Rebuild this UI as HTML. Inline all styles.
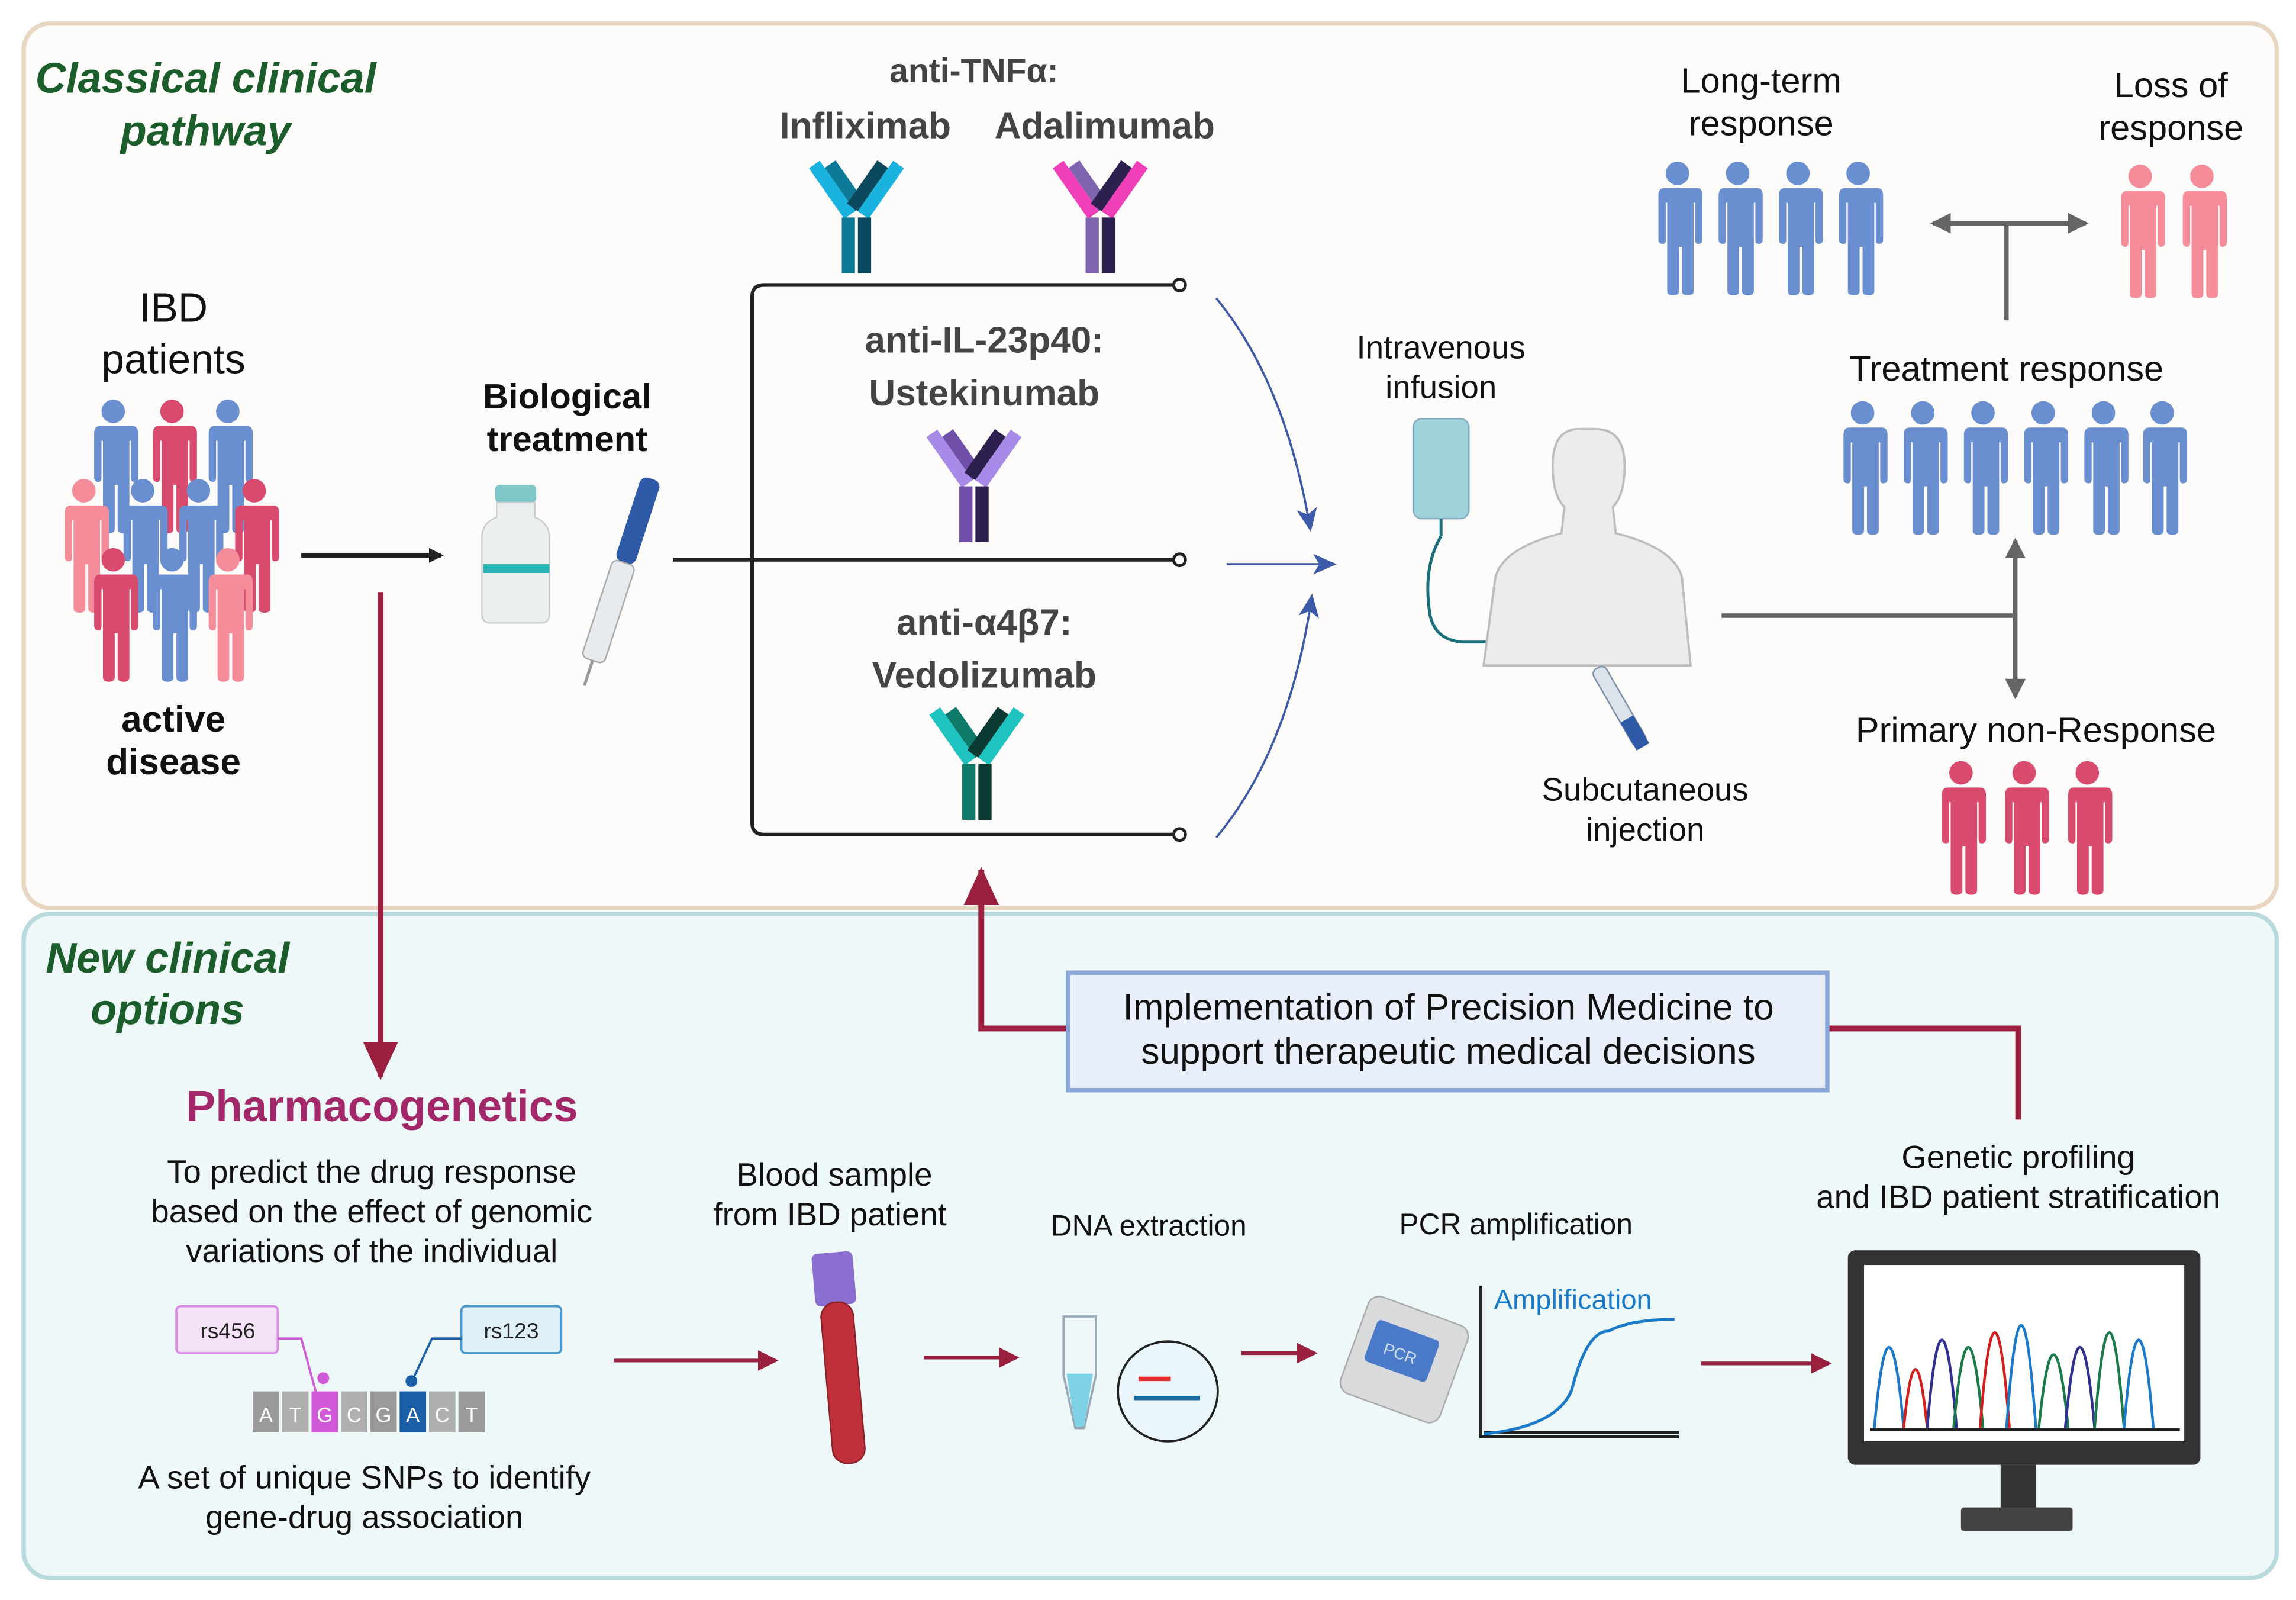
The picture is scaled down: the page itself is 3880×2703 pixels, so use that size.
<!DOCTYPE html>
<html><head><meta charset="utf-8"><style>
html,body{margin:0;padding:0;background:#fff}
svg{display:block}
text{font-family:"Liberation Sans",sans-serif}
</style></head><body>
<svg width="3880" height="2703" viewBox="0 0 1563 1089" xmlns="http://www.w3.org/2000/svg">
<defs>
<symbol id="p" viewBox="0 0 34 90" overflow="visible">
<circle cx="17" cy="8" r="8"/>
<path d="M4 18 h26 q4 0 4 5 v30 q0 3 -3 3 q-2 0 -2-3 v-25 h-1 v60 q0 3 -4 3 q-4 0 -4 -3 v-30 h-2 v30 q0 3 -4 3 q-4 0 -4 -3 v-60 h-1 v25 q0 3 -2 3 q-3 0 -3 -3 v-30 q0 -5 4 -5z"/>
</symbol>
<marker id="ak" markerWidth="10" markerHeight="10" refX="8" refY="5" orient="auto" markerUnits="userSpaceOnUse"><path d="M0 0 L10 5 L0 10z" fill="#222"/></marker>
<marker id="ab" markerWidth="16" markerHeight="14" refX="14" refY="7" orient="auto" markerUnits="userSpaceOnUse"><path d="M0 0 L16 7 L0 14 L4 7z" fill="#3d5aa8"/></marker>
<marker id="ag" markerWidth="14" markerHeight="14" refX="12" refY="7" orient="auto" markerUnits="userSpaceOnUse"><path d="M0 0 L14 7 L0 14z" fill="#666"/></marker>
<marker id="ar" markerWidth="14" markerHeight="14" refX="12" refY="7" orient="auto" markerUnits="userSpaceOnUse"><path d="M0 0 L14 7 L0 14z" fill="#9b1f3f"/></marker>
<marker id="arb" markerWidth="26" markerHeight="24" refX="24" refY="12" orient="auto" markerUnits="userSpaceOnUse"><path d="M0 0 L26 12 L0 24z" fill="#9b1f3f"/></marker>
</defs>

<!-- panels -->
<rect x="16" y="16" width="1534" height="602" rx="18" fill="#fdfcfa" stroke="#e8d6c2" stroke-width="3"/>
<rect x="16" y="622" width="1534" height="452" rx="18" fill="#eef8f9" stroke="#b9dadd" stroke-width="3"/>

<text x="140" y="63" font-size="29" font-weight="bold" font-style="italic" fill="#1b5e2b" text-anchor="middle">Classical clinical</text>
<text x="140" y="99" font-size="29" font-weight="bold" font-style="italic" fill="#1b5e2b" text-anchor="middle">pathway</text>
<text x="114" y="662" font-size="29" font-weight="bold" font-style="italic" fill="#1b5e2b" text-anchor="middle">New clinical</text>
<text x="114" y="697" font-size="29" font-weight="bold" font-style="italic" fill="#1b5e2b" text-anchor="middle">options</text>

<!-- IBD patients -->
<text x="118" y="219" font-size="28" fill="#111" text-anchor="middle">IBD</text>
<text x="118" y="254" font-size="28" fill="#111" text-anchor="middle">patients</text>
<use href="#p" x="60" y="272" width="34" height="90" fill="#6a8fd0"/>
<use href="#p" x="100" y="272" width="34" height="90" fill="#d94b6e"/>
<use href="#p" x="138" y="272" width="34" height="90" fill="#6a8fd0"/>
<use href="#p" x="40" y="326" width="34" height="90" fill="#f48c9a"/>
<use href="#p" x="80" y="326" width="34" height="90" fill="#6a8fd0"/>
<use href="#p" x="118" y="326" width="34" height="90" fill="#6a8fd0"/>
<use href="#p" x="156" y="326" width="34" height="90" fill="#d94b6e"/>
<use href="#p" x="60" y="373" width="34" height="90" fill="#d94b6e"/>
<use href="#p" x="100" y="373" width="34" height="90" fill="#6a8fd0"/>
<use href="#p" x="138" y="373" width="34" height="90" fill="#f48c9a"/>
<text x="118" y="498" font-size="25" font-weight="bold" fill="#111" text-anchor="middle">active</text>
<text x="118" y="527" font-size="25" font-weight="bold" fill="#111" text-anchor="middle">disease</text>

<line x1="205" y1="378" x2="300" y2="378" stroke="#222" stroke-width="3" marker-end="url(#ak)"/>

<text x="386" y="278" font-size="24" font-weight="bold" fill="#111" text-anchor="middle">Biological</text>
<text x="386" y="307" font-size="24" font-weight="bold" fill="#111" text-anchor="middle">treatment</text>
<!-- vial -->
<rect x="337" y="330" width="28" height="12" rx="3" fill="#7fc6c9"/>
<path d="M338 342 h26 v10 q10 4 10 14 v52 q0 6 -6 6 h-34 q-6 0 -6 -6 v-52 q0 -10 10 -14z" fill="#eceff0" stroke="#c8cdd0"/>
<rect x="329" y="384" width="45" height="6" fill="#2bb3b6"/>
<!-- pen -->
<g transform="rotate(18 420 395)">
<rect x="414" y="322" width="14" height="60" rx="5" fill="#2e5aa8"/>
<rect x="413" y="382" width="16" height="70" rx="4" fill="#e8ebee" stroke="#aaa"/>
<line x1="421" y1="452" x2="421" y2="470" stroke="#999" stroke-width="2"/>
</g>

<!-- bracket -->
<path d="M803 194 H520 Q512 194 512 202 V560 Q512 568 520 568 H803" fill="none" stroke="#222" stroke-width="2.5"/>
<line x1="458" y1="381" x2="803" y2="381" stroke="#222" stroke-width="2.5"/>
<circle cx="803" cy="194" r="4" fill="#fff" stroke="#222" stroke-width="2"/>
<circle cx="803" cy="381" r="4" fill="#fff" stroke="#222" stroke-width="2"/>
<circle cx="803" cy="568" r="4" fill="#fff" stroke="#222" stroke-width="2"/>

<text x="663" y="56" font-size="23" font-weight="bold" fill="#444" text-anchor="middle">anti-TNFα:</text>
<text x="589" y="94" font-size="25" font-weight="bold" fill="#444" text-anchor="middle">Infliximab</text>
<text x="752" y="94" font-size="25" font-weight="bold" fill="#444" text-anchor="middle">Adalimumab</text>
<text x="670" y="240" font-size="25" font-weight="bold" fill="#444" text-anchor="middle">anti-IL-23p40:</text>
<text x="670" y="276" font-size="25" font-weight="bold" fill="#444" text-anchor="middle">Ustekinumab</text>
<text x="670" y="432" font-size="25" font-weight="bold" fill="#444" text-anchor="middle">anti-α4β7:</text>
<text x="670" y="468" font-size="25" font-weight="bold" fill="#444" text-anchor="middle">Vedolizumab</text>

<!-- antibodies -->
<g id="ab1" transform="translate(583 110)">
<g transform="rotate(-35 -6 30)"><rect x="-13" y="-6" width="9" height="42" fill="#1ab3e0"/><rect x="-4" y="0" width="9" height="36" fill="#0d7a9a"/></g>
<g transform="rotate(35 6 30)"><rect x="-5" y="0" width="9" height="36" fill="#0b4a5e"/><rect x="4" y="-6" width="9" height="42" fill="#1ab3e0"/></g>
<rect x="-10" y="38" width="9" height="38" fill="#0d7a9a"/><rect x="1" y="38" width="9" height="38" fill="#0b4a5e"/>
</g>
<g transform="translate(749 110)">
<g transform="rotate(-35 -6 30)"><rect x="-13" y="-6" width="9" height="42" fill="#f03fb8"/><rect x="-4" y="0" width="9" height="36" fill="#8064b0"/></g>
<g transform="rotate(35 6 30)"><rect x="-5" y="0" width="9" height="36" fill="#2d1f4e"/><rect x="4" y="-6" width="9" height="42" fill="#f03fb8"/></g>
<rect x="-10" y="38" width="9" height="38" fill="#8064b0"/><rect x="1" y="38" width="9" height="38" fill="#2d1f4e"/>
</g>
<g transform="translate(663 293)">
<g transform="rotate(-35 -6 30)"><rect x="-13" y="-6" width="9" height="42" fill="#a88be8"/><rect x="-4" y="0" width="9" height="36" fill="#6f4fa8"/></g>
<g transform="rotate(35 6 30)"><rect x="-5" y="0" width="9" height="36" fill="#2d1f4e"/><rect x="4" y="-6" width="9" height="42" fill="#a88be8"/></g>
<rect x="-10" y="38" width="9" height="38" fill="#6f4fa8"/><rect x="1" y="38" width="9" height="38" fill="#2d1f4e"/>
</g>
<g transform="translate(665 482)">
<g transform="rotate(-35 -6 30)"><rect x="-13" y="-6" width="9" height="42" fill="#1fc4c0"/><rect x="-4" y="0" width="9" height="36" fill="#0e7a6a"/></g>
<g transform="rotate(35 6 30)"><rect x="-5" y="0" width="9" height="36" fill="#0b3a32"/><rect x="4" y="-6" width="9" height="42" fill="#1fc4c0"/></g>
<rect x="-10" y="38" width="9" height="38" fill="#0e7a6a"/><rect x="1" y="38" width="9" height="38" fill="#0b3a32"/>
</g>

<!-- blue arrows -->
<path d="M828 203 Q875 260 892 360" fill="none" stroke="#3d5aa8" stroke-width="1.5" marker-end="url(#ab)"/>
<line x1="835" y1="384" x2="908" y2="384" stroke="#3d5aa8" stroke-width="1.5" marker-end="url(#ab)"/>
<path d="M828 570 Q878 510 893 406" fill="none" stroke="#3d5aa8" stroke-width="1.5" marker-end="url(#ab)"/>

<!-- infusion / body -->
<text x="981" y="244" font-size="22" fill="#111" text-anchor="middle">Intravenous</text>
<text x="981" y="271" font-size="22" fill="#111" text-anchor="middle">infusion</text>
<rect x="962" y="285" width="38" height="68" rx="6" fill="#9fd3dc" stroke="#8ab" stroke-width="1"/>
<path d="M981 353 v12 M981 365 q-12 20 -8 50 q2 20 22 22 h18" fill="none" stroke="#1a6f7a" stroke-width="2"/>
<path d="M1075 292 q-18 0 -18 25 q0 20 8 28 l-2 18 q-40 10 -45 30 l-8 60 h141 l-6 -60 q-5 -20 -45 -30 l-2 -18 q8 -8 8 -28 q0 -25 -20 -25z" fill="#ececec" stroke="#bdbdbd" stroke-width="1.5"/>
<g transform="rotate(-30 1105 485)"><rect x="1100" y="450" width="10" height="60" rx="4" fill="#dde3ea" stroke="#7b8fa8"/><rect x="1100" y="490" width="10" height="22" fill="#2e5aa8"/></g>
<text x="1120" y="545" font-size="22" fill="#111" text-anchor="middle">Subcutaneous</text>
<text x="1120" y="572" font-size="22" fill="#111" text-anchor="middle">injection</text>

<!-- responses -->
<text x="1199" y="63" font-size="24" fill="#111" text-anchor="middle">Long-term</text>
<text x="1199" y="92" font-size="24" fill="#111" text-anchor="middle">response</text>
<text x="1478" y="66" font-size="24" fill="#111" text-anchor="middle">Loss of</text>
<text x="1478" y="95" font-size="24" fill="#111" text-anchor="middle">response</text>
<use href="#p" x="1125" y="110" width="34" height="90" fill="#6a8fd0"/>
<use href="#p" x="1166" y="110" width="34" height="90" fill="#6a8fd0"/>
<use href="#p" x="1207" y="110" width="34" height="90" fill="#6a8fd0"/>
<use href="#p" x="1248" y="110" width="34" height="90" fill="#6a8fd0"/>
<use href="#p" x="1440" y="112" width="34" height="90" fill="#f48c9a"/>
<use href="#p" x="1482" y="112" width="34" height="90" fill="#f48c9a"/>
<line x1="1366" y1="152" x2="1316" y2="152" stroke="#666" stroke-width="3" marker-end="url(#ag)"/>
<line x1="1366" y1="152" x2="1420" y2="152" stroke="#666" stroke-width="3" marker-end="url(#ag)"/>
<line x1="1366" y1="152" x2="1366" y2="218" stroke="#666" stroke-width="3"/>
<text x="1366" y="259" font-size="24" fill="#111" text-anchor="middle">Treatment response</text>
<use href="#p" x="1251" y="273" width="34" height="90" fill="#6a8fd0"/>
<use href="#p" x="1292" y="273" width="34" height="90" fill="#6a8fd0"/>
<use href="#p" x="1333" y="273" width="34" height="90" fill="#6a8fd0"/>
<use href="#p" x="1374" y="273" width="34" height="90" fill="#6a8fd0"/>
<use href="#p" x="1415" y="273" width="34" height="90" fill="#6a8fd0"/>
<use href="#p" x="1455" y="273" width="34" height="90" fill="#6a8fd0"/>
<line x1="1172" y1="419" x2="1372" y2="419" stroke="#666" stroke-width="3"/>
<line x1="1372" y1="419" x2="1372" y2="368" stroke="#666" stroke-width="3" marker-end="url(#ag)"/>
<line x1="1372" y1="419" x2="1372" y2="474" stroke="#666" stroke-width="3" marker-end="url(#ag)"/>
<text x="1386" y="505" font-size="24" fill="#111" text-anchor="middle">Primary non-Response</text>
<use href="#p" x="1318" y="518" width="34" height="90" fill="#d94b6e"/>
<use href="#p" x="1361" y="518" width="34" height="90" fill="#d94b6e"/>
<use href="#p" x="1404" y="518" width="34" height="90" fill="#d94b6e"/>

<!-- red connectors -->
<line x1="259" y1="403" x2="259" y2="733" stroke="#9b1f3f" stroke-width="4" marker-end="url(#arb)"/>
<polyline points="726,700 668,700 668,592" fill="none" stroke="#9b1f3f" stroke-width="4" marker-end="url(#arb)"/>
<polyline points="1245,700 1374,700 1374,762" fill="none" stroke="#9b1f3f" stroke-width="4"/>
<rect x="727" y="662" width="517" height="80" fill="#e9f0fb" stroke="#8aa6d8" stroke-width="3"/>
<text x="986" y="694" font-size="25" fill="#111" text-anchor="middle">Implementation of Precision Medicine to</text>
<text x="986" y="724" font-size="25" fill="#111" text-anchor="middle">support therapeutic medical decisions</text>

<!-- pharmacogenetics -->
<text x="260" y="763" font-size="30" font-weight="bold" fill="#a3286a" text-anchor="middle">Pharmacogenetics</text>
<text x="253" y="805" font-size="22" fill="#111" text-anchor="middle">To predict the drug response</text>
<text x="253" y="832" font-size="22" fill="#111" text-anchor="middle">based on the effect of genomic</text>
<text x="253" y="859" font-size="22" fill="#111" text-anchor="middle">variations of the individual</text>
<rect x="120" y="889" width="69" height="32" rx="3" fill="#f5e2f8" stroke="#d98be6" stroke-width="1.5"/>
<text x="155" y="911" font-size="15" fill="#222" text-anchor="middle">rs456</text>
<rect x="314" y="889" width="68" height="32" rx="3" fill="#dff0f7" stroke="#4a9ad0" stroke-width="1.5"/>
<text x="348" y="911" font-size="15" fill="#222" text-anchor="middle">rs123</text>
<path d="M189 911 h16 l15 55" fill="none" stroke="#d05ad8" stroke-width="1.5"/><circle cx="220" cy="938" r="4" fill="#d05ad8"/>
<path d="M314 911 h-20 l-14 30" fill="none" stroke="#1a5fa8" stroke-width="1.5"/><circle cx="280" cy="940" r="4" fill="#1a5fa8"/>
<g font-size="14" fill="#fff" text-anchor="middle">
<rect x="172" y="947" width="18" height="28" fill="#9a9a9a"/><text x="181" y="968">A</text>
<rect x="192" y="947" width="18" height="28" fill="#b0b0b0"/><text x="201" y="968">T</text>
<rect x="212" y="947" width="18" height="28" fill="#d05ad8"/><text x="221" y="968">G</text>
<rect x="232" y="947" width="18" height="28" fill="#b0b0b0"/><text x="241" y="968">C</text>
<rect x="252" y="947" width="18" height="28" fill="#9a9a9a"/><text x="261" y="968">G</text>
<rect x="272" y="947" width="18" height="28" fill="#1a5fa8"/><text x="281" y="968">A</text>
<rect x="292" y="947" width="18" height="28" fill="#b0b0b0"/><text x="301" y="968">C</text>
<rect x="312" y="947" width="18" height="28" fill="#9a9a9a"/><text x="321" y="968">T</text>
</g>
<text x="248" y="1013" font-size="22" fill="#111" text-anchor="middle">A set of unique SNPs to identify</text>
<text x="248" y="1040" font-size="22" fill="#111" text-anchor="middle">gene-drug association</text>

<!-- bottom flow arrows -->
<line x1="418" y1="926" x2="528" y2="926" stroke="#9b1f3f" stroke-width="2.5" marker-end="url(#ar)"/>
<line x1="629" y1="924" x2="692" y2="924" stroke="#9b1f3f" stroke-width="2.5" marker-end="url(#ar)"/>
<line x1="845" y1="921" x2="895" y2="921" stroke="#9b1f3f" stroke-width="2.5" marker-end="url(#ar)"/>
<line x1="1158" y1="928" x2="1245" y2="928" stroke="#9b1f3f" stroke-width="2.5" marker-end="url(#ar)"/>

<text x="568" y="807" font-size="22" fill="#111" text-anchor="middle">Blood sample</text>
<text x="565" y="834" font-size="22" fill="#111" text-anchor="middle">from IBD patient</text>
<g transform="rotate(-5 575 920)">
<rect x="558" y="852" width="28" height="36" rx="4" fill="#8a6fd0"/>
<rect x="561" y="886" width="22" height="110" rx="10" fill="#c0303a" stroke="#8a2028"/>
</g>
<text x="782" y="841" font-size="20" fill="#111" text-anchor="middle">DNA extraction</text>
<path d="M724 896 h22 v40 l-8 36 h-6 l-8 -36z" fill="#eef6f8" stroke="#9ab" stroke-width="1.5"/>
<path d="M726 935 h18 l-6 36 h-6z" fill="#7fd2e6"/>
<circle cx="795" cy="947" r="34" fill="#eaf6fb" stroke="#222" stroke-width="1.5"/>
<rect x="775" y="937" width="22" height="3" fill="#e03030"/><rect x="772" y="950" width="45" height="3" fill="#1a6aa0"/>
<text x="1032" y="840" font-size="20" fill="#111" text-anchor="middle">PCR amplification</text>
<g transform="rotate(20 955 925)"><rect x="920" y="890" width="72" height="70" rx="8" fill="#d8dadc" stroke="#aaa"/><rect x="930" y="905" width="45" height="30" rx="3" fill="#4a7ac8"/><text x="952" y="926" font-size="11" fill="#cde" text-anchor="middle">PCR</text></g>
<path d="M1008 875 V978 H1143" fill="none" stroke="#222" stroke-width="2"/>
<path d="M1010 975 H1143" stroke="#222" stroke-width="2"/>
<path d="M1010 976 q50 -5 60 -30 q10 -40 25 -40 q15 -8 45 -8" fill="none" stroke="#1a7ac8" stroke-width="2"/>
<text x="1017" y="891" font-size="19" fill="#1a7ac8">Amplification</text>

<text x="1374" y="795" font-size="22" fill="#111" text-anchor="middle">Genetic profiling</text>
<text x="1374" y="822" font-size="22" fill="#111" text-anchor="middle">and IBD patient stratification</text>
<rect x="1258" y="851" width="240" height="146" rx="5" fill="#333"/>
<rect x="1269" y="861" width="218" height="120" fill="#fff"/>
<rect x="1362" y="997" width="24" height="30" fill="#333"/>
<rect x="1335" y="1026" width="76" height="16" rx="2" fill="#444"/>
<g fill="none" stroke-width="1.8">
<path d="M1276 972 q10 -110 20 0" stroke="#1a7ac8"/>
<path d="M1296 972 q8 -80 16 0" stroke="#d02020"/>
<path d="M1312 972 q10 -120 20 0" stroke="#303090"/>
<path d="M1330 972 q10 -110 20 0" stroke="#1a7a4a"/>
<path d="M1348 972 q10 -130 20 0" stroke="#d02020"/>
<path d="M1366 972 q10 -140 20 0" stroke="#1a7ac8"/>
<path d="M1388 972 q10 -100 20 0" stroke="#1a7a4a"/>
<path d="M1406 972 q10 -110 20 0" stroke="#303090"/>
<path d="M1426 972 q10 -130 20 0" stroke="#1a7a4a"/>
<path d="M1446 972 q10 -120 20 0" stroke="#1a7ac8"/>
</g>
<line x1="1273" y1="973" x2="1484" y2="973" stroke="#222" stroke-width="2"/>
</svg>
</body></html>
